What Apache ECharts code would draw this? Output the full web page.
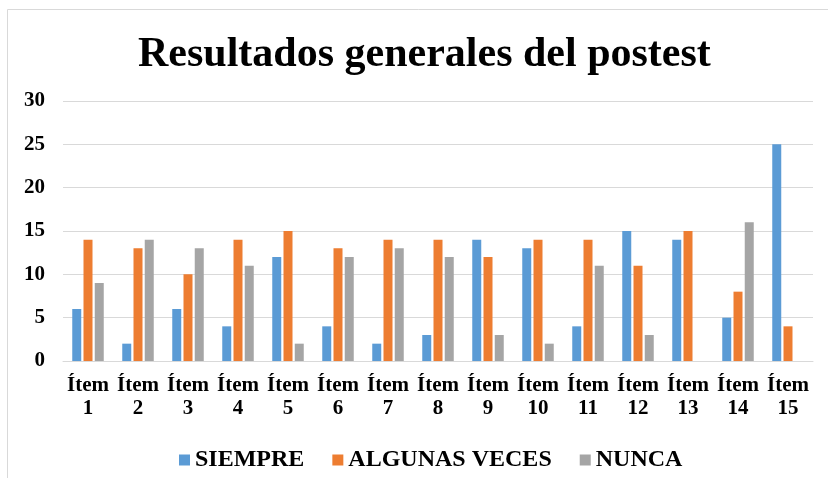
<!DOCTYPE html>
<html><head><meta charset="utf-8">
<script src="https://cdn.jsdelivr.net/npm/echarts@6/dist/echarts.min.js"></script>
<style>html,body{margin:0;padding:0;background:#fff}#c{width:828px;height:478px}</style>
</head><body><div id="c"></div>
<script>
const categories = ['Ítem\n1','Ítem\n2','Ítem\n3','Ítem\n4','Ítem\n5','Ítem\n6','Ítem\n7','Ítem\n8','Ítem\n9','Ítem\n10','Ítem\n11','Ítem\n12','Ítem\n13','Ítem\n14','Ítem\n15'];
const siempre = [6,2,6,4,12,4,2,3,14,13,4,15,14,5,25];
const algunasVeces = [14,13,10,14,15,13,14,14,12,14,14,11,15,8,4];
const nunca = [9,14,13,11,2,12,13,12,3,2,11,3,0,16,0];
const yTicks = [0,5,10,15,20,25,30];

const font = 'Liberation Serif';
const chart = echarts.init(document.getElementById('c'));
chart.setOption({
  animation: false,
  textStyle: {fontFamily: font},
  graphic: [{type:'rect', shape:{x:7.5,y:9.5,width:900,height:600}, style:{fill:'none',stroke:'#d9d9d9',lineWidth:1}, silent:true}],
  title: {text:'Resultados generales del postest', left:133, top:29,
    textStyle:{fontFamily:font, fontWeight:'bold', fontSize:42, color:'#000'}},
  legend: {top:443, left:174, itemWidth:11, itemHeight:11, itemGap:28,
    icon:'rect',
    textStyle:{fontFamily:font, fontWeight:'bold', fontSize:24, color:'#000'},
    data:['SIEMPRE','ALGUNAS VECES','NUNCA']},
  grid: {left:63, right:15, top:101, bottom:117},
  xAxis: {type:'category', data:categories,
    axisLine:{show:true, lineStyle:{color:'#d9d9d9'}}, axisTick:{show:false},
    axisLabel:{fontFamily:font, fontWeight:'bold', fontSize:21, color:'#000', lineHeight:23, margin:13, interval:0}},
  yAxis: {type:'value', min:0, max:30, interval:5,
    axisLine:{show:false}, axisTick:{show:false},
    splitLine:{lineStyle:{color:'#d9d9d9', width:1}},
    axisLabel:{fontFamily:font, fontWeight:'bold', fontSize:21, color:'#000', margin:18,
      formatter: v => yTicks.includes(v) ? String(v) : ''}},
  series: [
    {name:'SIEMPRE', type:'bar', data:siempre, barWidth:9, barGap:'25%', itemStyle:{color:'#5B9BD5'}},
    {name:'ALGUNAS VECES', type:'bar', data:algunasVeces, barWidth:9, barGap:'25%', itemStyle:{color:'#ED7D31'}},
    {name:'NUNCA', type:'bar', data:nunca, barWidth:9, barGap:'25%', itemStyle:{color:'#A5A5A5'}}
  ]
});
</script></body></html>
